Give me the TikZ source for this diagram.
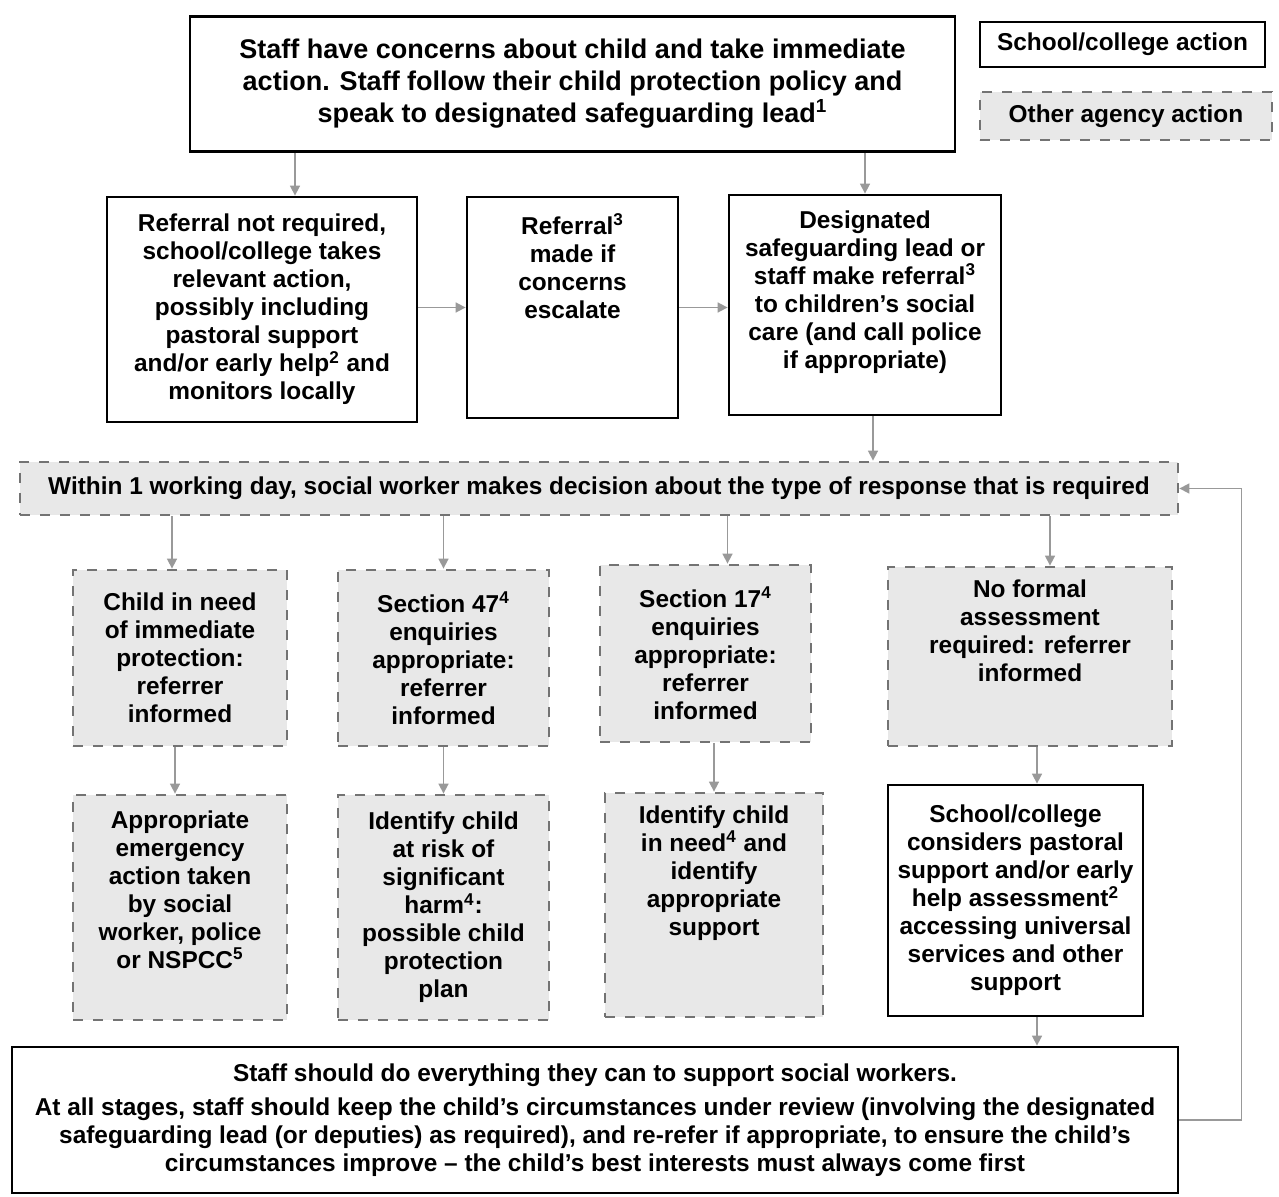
\documentclass[tikz,border=0pt]{standalone}
\usepackage{fontspec}
\setmainfont{Liberation Sans}
\usetikzlibrary{arrows.meta,positioning}

\begin{document}
\begin{tikzpicture}[%
    x=0.5pt, y=-0.5pt,
    >={Triangle[length=5pt,width=5pt]},
    font=\bfseries\fontsize{12.2}{14}\selectfont,
    school/.style={draw, line width=1.4pt, align=center, inner sep=0pt},
    agency/.style={draw=black!55, fill=black!9, line width=1.4pt,
      dash pattern=on 5pt off 5pt, align=center, inner sep=0pt},
    txt/.style={align=center, inner sep=0pt},
    flow/.style={draw=black!40, line width=0.8pt, ->},
  ]
  \useasboundingbox (0,0) rectangle (1279,1197);

  % key
  \node (keyS) [school, minimum width=142.5pt, minimum height=22.5pt] at (1122.5,44.5) {School/college action};
  \node (keyO) [agency, minimum width=146pt, minimum height=24pt] at (1126,116) {Other agency action};

  % school/college steps
  \node (top) [school, minimum width=382.5pt, minimum height=67.5pt, font=\bfseries\fontsize{13.5}{16}\selectfont] at (572.5,84)
    {Staff have concerns about child and take immediate\\ action. Staff follow their child protection policy and\\ speak to designated safeguarding lead\textsuperscript{1}};
  \node (A) [school, minimum width=155pt, minimum height=112.5pt] at (262,309.5)
    {Referral not required,\\ school/college takes\\ relevant action,\\ possibly including\\ pastoral support\\ and/or early help\textsuperscript{2} and\\ monitors locally};
  \node (B) [school, minimum width=105.5pt, minimum height=110.5pt] at (572.5,307.5) {};
  \node (Bt) [txt, below=9pt of B.north] {Referral\textsuperscript{3}\\ made if\\ concerns\\ escalate};
  \node (C) [school, minimum width=136pt, minimum height=110pt] at (865,305) {};
  \node (Ct) [txt, below=8.5pt of C.north] {Designated\\ safeguarding lead or\\ staff make referral\textsuperscript{3}\\ to children’s social\\ care (and call police\\ if appropriate)};

  % decision
  \node (W) [agency, minimum width=579pt, minimum height=26.5pt] at (599,488.5)
    {Within 1 working day, social worker makes decision about the type of response that is required};

  \node (D1) [agency, minimum width=107pt, minimum height=88pt] at (180,658)
    {Child in need\\ of immediate\\ protection:\\ referrer\\ informed};
  \node (D2) [agency, minimum width=105.5pt, minimum height=88pt] at (443.5,658)
    {Section 47\textsuperscript{4}\\ enquiries\\ appropriate:\\ referrer\\ informed};
  \node (D3) [agency, minimum width=105.5pt, minimum height=88.5pt] at (705.5,653.5)
    {Section 17\textsuperscript{4}\\ enquiries\\ appropriate:\\ referrer\\ informed};
  \node (D4) [agency, minimum width=142pt, minimum height=89.5pt] at (1030,656.5) {};
  \node (D4t) [txt, below=7pt of D4.north] {No formal\\ assessment\\ required: referrer\\ informed};

  \node (E1) [agency, minimum width=107pt, minimum height=112.5pt] at (180,907.5) {};
  \node (E1t) [txt, below=8.5pt of E1.north] {Appropriate\\ emergency\\ action taken\\ by social\\ worker, police\\ or NSPCC\textsuperscript{5}};
  \node (E2) [agency, minimum width=105.5pt, minimum height=112.5pt] at (443.5,907.5)
    {Identify child\\ at risk of\\ significant\\ harm\textsuperscript{4}:\\ possible child\\ protection\\ plan};
  \node (E3) [agency, minimum width=109pt, minimum height=112pt] at (714,905) {};
  \node (E3t) [txt, below=7pt of E3.north] {Identify child\\ in need\textsuperscript{4} and\\ identify\\ appropriate\\ support};
  \node (E4) [school, minimum width=127.5pt, minimum height=115.5pt] at (1015.5,900.5)
    {School/college\\ considers pastoral\\ support and/or early\\ help assessment\textsuperscript{2}\\ accessing universal\\ services and other\\ support};

  \node (bot) [school, minimum width=583pt, minimum height=73pt] at (595,1120)
    {Staff should do everything they can to support social workers.\\[3pt]
     At all stages, staff should keep the child’s circumstances under review (involving the designated\\
     safeguarding lead (or deputies) as required), and re-refer if appropriate, to ensure the child’s\\
     circumstances improve – the child’s best interests must always come first};

  % connectors
  \draw[flow] ([xshift=16.5pt]top.south -| A.north) -- ([xshift=16.5pt]A.north);
  \draw[flow] (top.south -| C.north) -- (C.north);
  \draw[flow] (A.east |- B.west) -- (B.west);
  \draw[flow] (B.east) -- (B.east -| C.west);
  \draw[flow] ([xshift=4pt]C.south) -- ([xshift=4pt]C.south |- W.north);
  \draw[flow] ([xshift=-4pt]D1.north |- W.south) -- ([xshift=-4pt]D1.north);
  \draw[flow] (D2.north |- W.south) -- (D2.north);
  \draw[flow] ([xshift=11pt]D3.north |- W.south) -- ([xshift=11pt]D3.north);
  \draw[flow] ([xshift=10pt]D4.north |- W.south) -- ([xshift=10pt]D4.north);
  \draw[flow] ([xshift=-2.5pt]D1.south) -- ([xshift=-2.5pt]E1.north);
  \draw[flow] (D2.south) -- (E2.north);
  \draw[flow] (E3.north |- D3.south) -- (E3.north);
  \draw[flow] ([xshift=10.75pt]E4.north |- D4.south) -- ([xshift=10.75pt]E4.north);
  \draw[flow] ([xshift=10.75pt]E4.south) -- ([xshift=10.75pt]E4.south |- bot.north);
  \draw[flow] (bot.east) -- ++(62,0) |- (W.east);
\end{tikzpicture}
\end{document}
